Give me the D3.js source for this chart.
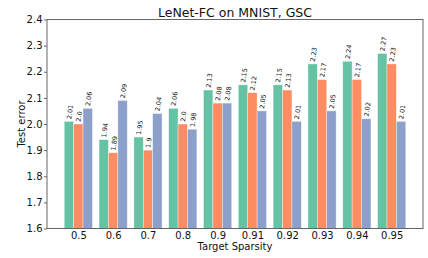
<!DOCTYPE html>
<html><head><meta charset="utf-8">
<script src="https://cdn.jsdelivr.net/npm/d3@7"></script>
<style>body{margin:0;background:#fff}svg{display:block}text{font-family:"DejaVu Sans",sans-serif}</style>
</head><body><svg id="c" width="428" height="258"></svg>
<script>
const categories = ["0.5","0.6","0.7","0.8","0.9","0.91","0.92","0.93","0.94","0.95"];
const seriesA = [2.01,1.94,1.95,2.06,2.13,2.15,2.15,2.23,2.24,2.27];
const seriesB = [2.0,1.89,1.9,2.0,2.08,2.12,2.13,2.17,2.17,2.23];
const seriesC = [2.06,2.09,2.04,1.98,2.08,2.05,2.01,2.05,2.02,2.01];
const labelsA = ["2.01","1.94","1.95","2.06","2.13","2.15","2.15","2.23","2.24","2.27"];
const labelsB = ["2.0","1.89","1.9","2.0","2.08","2.12","2.13","2.17","2.17","2.23"];
const labelsC = ["2.06","2.09","2.04","1.98","2.08","2.05","2.01","2.05","2.02","2.01"];
const yTicks = [1.6,1.7,1.8,1.9,2.0,2.1,2.2,2.3,2.4];
const colors = ["#66c2a5","#fc8d62","#8da0cb"];

const svg = d3.select("#c");
const L=47,R=423,T=19.5,B=228.5;
const x = d3.scaleLinear().domain([-0.9,9.9]).range([L,R]);
const y = d3.scaleLinear().domain([1.6,2.4]).range([B,T]);
const w = 0.27;
const series=[seriesA,seriesB,seriesC], labels=[labelsA,labelsB,labelsC];
series.forEach((s,si)=>{
  const off=(si-1)*w;
  svg.append("g").selectAll("rect").data(s).join("rect")
    .attr("x",(d,i)=>x(i+off-w/2)).attr("width",x(w)-x(0))
    .attr("y",d=>y(d)).attr("height",d=>B-y(d))
    .attr("fill",colors[si]).attr("stroke","#fff").attr("stroke-width",0.6).attr("stroke-opacity",0.6);
  svg.append("g").selectAll("text").data(s).join("text")
    .attr("transform",(d,i)=>`translate(${x(i+off)+2.2},${y(d)-2}) rotate(-82)`)
    .attr("font-size",6.5).attr("fill","#111").text((d,i)=>labels[si][i]);
});
svg.append("rect").attr("x",L).attr("y",T).attr("width",R-L).attr("height",B-T)
  .attr("fill","none").attr("stroke","#666").attr("stroke-width",1);
const ya=svg.append("g").attr("transform",`translate(${L},0)`)
  .call(d3.axisLeft(y).tickValues(yTicks).tickFormat(d3.format(".1f")).tickSize(3).tickPadding(1.5));
const xa=svg.append("g").attr("transform",`translate(0,${B})`)
  .call(d3.axisBottom(x).tickValues(d3.range(10)).tickFormat(i=>categories[i]).tickSize(0).tickPadding(0));
xa.selectAll("text").attr("dy",null).attr("y",10.5);
[ya,xa].forEach(a=>{a.select(".domain").remove();a.selectAll("line").attr("stroke","#666");
  a.selectAll("text").attr("font-size",10).attr("fill","#111").attr("font-family","DejaVu Sans");});
svg.append("text").attr("x",(L+R)/2).attr("y",16.5).attr("text-anchor","middle").attr("font-size",12.5).attr("fill","#111").text("LeNet-FC on MNIST, GSC");
svg.append("text").attr("x",(L+R)/2).attr("y",250).attr("text-anchor","middle").attr("font-size",10).attr("fill","#111").text("Target Sparsity");
svg.append("text").attr("transform",`translate(25,${(T+B)/2}) rotate(-90)`).attr("text-anchor","middle").attr("font-size",10).attr("fill","#111").text("Test error");
</script></body></html>
